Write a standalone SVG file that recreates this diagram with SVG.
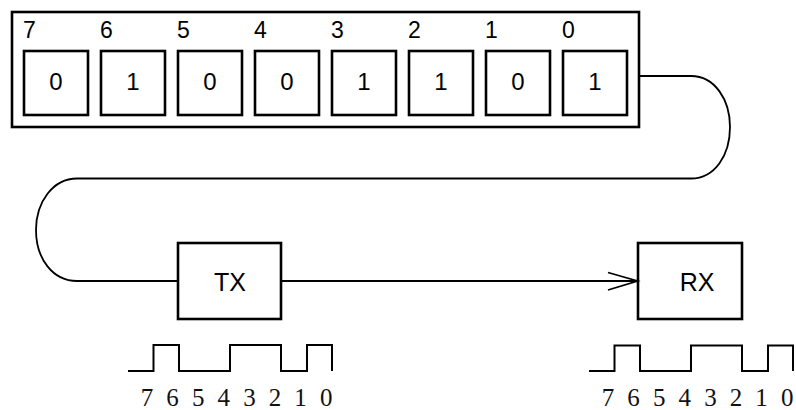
<svg xmlns="http://www.w3.org/2000/svg" width="796" height="410" viewBox="0 0 796 410">
<style>
.box{fill:#fff;stroke:#000;stroke-width:2.6}
.line{fill:none;stroke:#000;stroke-width:1.8}
.wave{fill:none;stroke:#000;stroke-width:2}
.lbl{font-family:"Liberation Sans",Arial,sans-serif;font-size:23px;fill:#000}
.val{font-family:"Liberation Sans",Arial,sans-serif;font-size:24px;fill:#000;text-anchor:middle}
.big{font-family:"Liberation Sans",Arial,sans-serif;font-size:25px;fill:#000;text-anchor:middle}
.num{font-family:"Liberation Serif","Times New Roman",serif;font-size:25px;fill:#111;text-anchor:middle}
</style>
<rect width="796" height="410" fill="#fff"/>
<g id="register">
<rect class="box" x="12" y="12" width="627" height="115" stroke-width="3"/>
<g id="bit7"><text class="lbl" x="23" y="37.5">7</text><rect class="box" x="24" y="51" width="64" height="64"/><text class="val" x="56" y="90">0</text></g>
<g id="bit6"><text class="lbl" x="100" y="37.5">6</text><rect class="box" x="101" y="51" width="64" height="64"/><text class="val" x="133" y="90">1</text></g>
<g id="bit5"><text class="lbl" x="177" y="37.5">5</text><rect class="box" x="178" y="51" width="64" height="64"/><text class="val" x="210" y="90">0</text></g>
<g id="bit4"><text class="lbl" x="254" y="37.5">4</text><rect class="box" x="255" y="51" width="64" height="64"/><text class="val" x="287" y="90">0</text></g>
<g id="bit3"><text class="lbl" x="331" y="37.5">3</text><rect class="box" x="332" y="51" width="64" height="64"/><text class="val" x="364" y="90">1</text></g>
<g id="bit2"><text class="lbl" x="408" y="37.5">2</text><rect class="box" x="409" y="51" width="64" height="64"/><text class="val" x="441" y="90">1</text></g>
<g id="bit1"><text class="lbl" x="485" y="37.5">1</text><rect class="box" x="486" y="51" width="64" height="64"/><text class="val" x="518" y="90">0</text></g>
<g id="bit0"><text class="lbl" x="562" y="37.5">0</text><rect class="box" x="563" y="51" width="64" height="64"/><text class="val" x="595" y="90">1</text></g>
</g>
<g id="tx"><rect class="box" x="178" y="243" width="103" height="76"/><text class="big" x="230" y="291">TX</text></g>
<g id="rx"><rect class="box" x="638" y="243" width="104" height="76"/><text class="big" x="697" y="291">RX</text></g>
<g id="connectors">
<path class="line" d="M639,76 H691 C715,76 730,100 730,127 C730,155 715,178.5 691,178.5 H77 C53,178.5 36,202 36,230 C36,259 53,281 77,281 H178"/>
<path class="line" d="M281,281 H637"/>
<path class="line" d="M608,272.5 L637.5,281 L608,290"/>
</g>
<g id="tx-wave">
<path class="wave" d="M128,371 H153.5 V345 H179 V371 H230 V345 H281 V371 H307 V345 H332 V371"/>
<g class="num"><text x="147" y="406">7</text><text x="172.6" y="406">6</text><text x="198.2" y="406">5</text><text x="223.8" y="406">4</text><text x="249.4" y="406">3</text><text x="275" y="406">2</text><text x="300.6" y="406">1</text><text x="326.2" y="406">0</text></g>
</g>
<g id="rx-wave">
<path class="wave" d="M589,371 H614.5 V345.5 H640 V371 H691 V345.5 H742 V371 H768 V345.5 H793 V371"/>
<g class="num"><text x="608" y="406">7</text><text x="633.6" y="406">6</text><text x="659.2" y="406">5</text><text x="684.8" y="406">4</text><text x="710.4" y="406">3</text><text x="736" y="406">2</text><text x="761.6" y="406">1</text><text x="787.2" y="406">0</text></g>
</g>
</svg>
